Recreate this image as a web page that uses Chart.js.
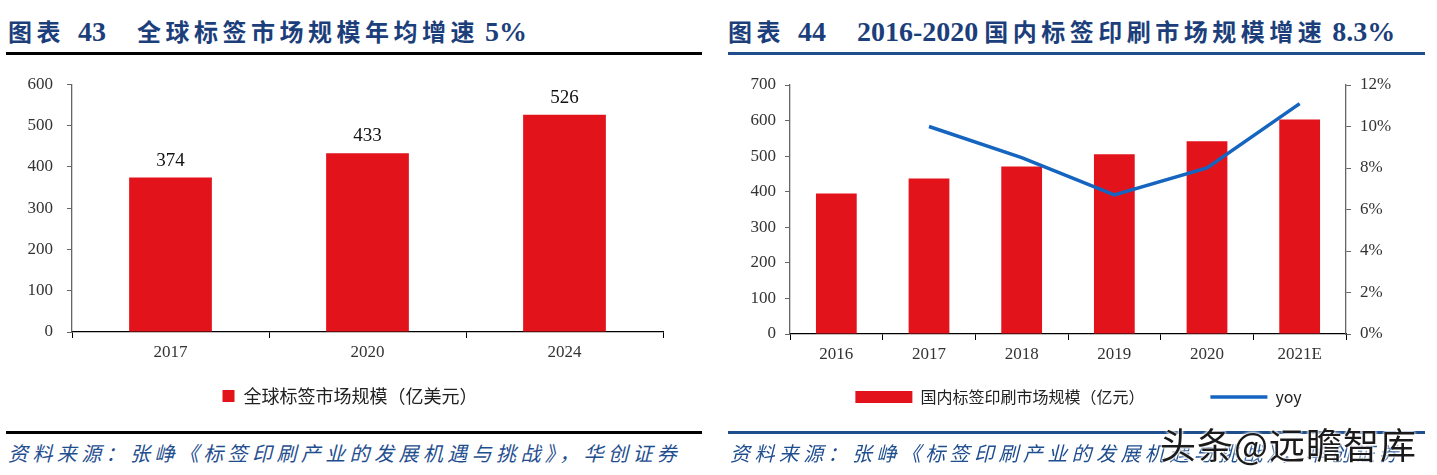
<!DOCTYPE html>
<html>
<head>
<meta charset="utf-8">
<script src="https://cdn.jsdelivr.net/npm/chart.js@4/dist/chart.umd.min.js"></script>
<style>
  body { margin: 0; background: #fff; width: 1437px; height: 475px; overflow: hidden; position: relative; }
  .title { position: absolute; top: 13px; height: 36px; line-height: 36px; font: bold 24px "Liberation Serif", "Noto Sans CJK SC"; color: #1c3f7c; white-space: nowrap; }
  .title span { display: inline-block; }
  .title .cjk { letter-spacing: 4.5px; }
  .title .num { font-size: 28px; }
  .rule { position: absolute; height: 3px; }
  .source { position: absolute; top: 438px; font: italic 20px "Noto Sans CJK SC"; color: #1f4e8f; letter-spacing: 4.4px; white-space: nowrap; }
  .box { position: absolute; top: 60px; height: 360px; }
  .mark { position: absolute; left: 1160px; top: 417px; font: 36px "Noto Sans CJK SC"; color: #1a1a1a; letter-spacing: 1px;
          text-shadow: 0 0 3px #fff, 0 0 3px #fff, 0 0 3px #fff; white-space: nowrap; }
</style>
</head>
<body>
<div class="title" style="left:8px"><span class="cjk" style="width:70px">图表</span><span class="num" style="width:59px">43</span><span class="cjk">全球标签市场规模年均增速</span>&nbsp;<span class="num">5%</span></div>
<div class="rule" style="left:6px; width:696px; top:52px; background:#000"></div>

<div class="title" style="left:728px"><span class="cjk" style="width:70px">图表</span><span class="num" style="width:59px">44</span><span class="num">2016-2020</span>&nbsp;<span class="cjk">国内标签印刷市场规模增速</span>&nbsp;<span class="num">8.3%</span></div>
<div class="rule" style="left:728px; width:697px; top:52px; background:#1f4e8c"></div>

<div class="box" style="left:0; width:700px"><canvas id="globalChart"></canvas></div>
<div class="box" style="left:720px; width:717px"><canvas id="domesticChart"></canvas></div>

<div class="rule" style="left:6px; width:696px; top:431px; background:#000"></div>
<div class="rule" style="left:728px; width:697px; top:431px; background:#1f4e8c"></div>
<div class="source" style="left:8px">资料来源：张峥《标签印刷产业的发展机遇与挑战》，华创证券</div>
<div class="source" style="left:730px">资料来源：张峥《标签印刷产业的发展机遇与挑战》，华创证券</div>
<div class="mark">头条@远瞻智库</div>

<script>
// 图表43
const globalYears = ['2017', '2020', '2024'];
const globalSize = [374, 433, 526];

// 图表44
const domesticYears = ['2016', '2017', '2018', '2019', '2020', '2021E'];
const domesticSize = [395, 437, 471, 505, 542, 603];
const domesticYoy = [null, 10.0, 8.5, 6.7, 8.0, 11.1];

const RED = '#e3131b';
const BLUE = '#1565c0';
const serif = '"Liberation Serif", "Noto Sans CJK SC"';

Chart.defaults.animation = false;
Chart.defaults.responsive = true;
Chart.defaults.maintainAspectRatio = false;
Chart.defaults.plugins.tooltip.enabled = false;

const barLabels = {
    id: 'barLabels',
    afterDatasetsDraw(chart) {
        const ctx = chart.ctx;
        const meta = chart.getDatasetMeta(0);
        ctx.save();
        ctx.font = '19px ' + serif;
        ctx.fillStyle = '#111';
        ctx.textAlign = 'center';
        ctx.textBaseline = 'alphabetic';
        meta.data.forEach((bar, i) => {
            ctx.fillText(globalSize[i], bar.x, bar.y - 12);
        });
        ctx.restore();
    }
};

// legend should be centred on the whole canvas, not only the padded part
const fullLegend = {
    id: 'fullLegend',
    afterLayout(chart) {
        chart.legend.left = 0;
        chart.legend.right = chart.width;
        chart.legend.width = chart.width;
    }
};

function xAxis(height) {
    return {
        grid: { offset: true, drawOnChartArea: false, drawTicks: true, tickLength: 6, color: '#000' },
        border: { color: '#000', width: 1.3 },
        ticks: { color: '#333', font: { family: serif, size: 17 }, padding: 4 },
        afterFit: s => { s.height = height; }
    };
}

function yAxis(opts) {
    return {
        position: opts.position,
        min: 0,
        max: opts.max,
        grid: { drawOnChartArea: false, drawTicks: true, tickLength: 5, color: '#666' },
        border: { color: '#666', width: 1.3 },
        ticks: {
            stepSize: opts.step,
            color: '#333',
            font: { family: serif, size: 17 },
            padding: opts.pad || 9,
            callback: opts.callback
        },
        afterFit: s => { s.width = opts.width; }
    };
}

new Chart(document.getElementById('globalChart'), {
    type: 'bar',
    data: {
        labels: globalYears,
        datasets: [{
            label: '全球标签市场规模（亿美元）',
            data: globalSize,
            backgroundColor: RED,
            categoryPercentage: 1,
            barPercentage: 0.42
        }]
    },
    options: {
        layout: { padding: { left: 0, right: 37, top: 24, bottom: 5 } },
        scales: {
            x: xAxis(45),
            y: yAxis({ position: 'left', max: 600, step: 100, width: 72, pad: 14 })
        },
        plugins: {
            legend: {
                position: 'bottom',
                labels: {
                    boxWidth: 12, boxHeight: 12, padding: 10,
                    color: '#222',
                    font: { family: '"Noto Sans CJK SC"', size: 18 }
                }
            }
        }
    },
    plugins: [barLabels, fullLegend]
});

new Chart(document.getElementById('domesticChart'), {
    type: 'bar',
    data: {
        labels: domesticYears,
        datasets: [{
            label: '国内标签印刷市场规模（亿元）',
            data: domesticSize,
            backgroundColor: RED,
            categoryPercentage: 1,
            barPercentage: 0.44,
            yAxisID: 'y',
            order: 1,
            pointStyle: 'rect'
        }, {
            type: 'line',
            label: 'yoy',
            data: domesticYoy,
            borderColor: BLUE,
            backgroundColor: BLUE,
            borderWidth: 3.5,
            pointRadius: 0,
            tension: 0,
            yAxisID: 'y1',
            order: 0,
            pointStyle: 'line'
        }]
    },
    options: {
        layout: { padding: { left: 0, right: 0, top: 25, bottom: 5 } },
        scales: {
            x: xAxis(45),
            y: yAxis({ position: 'left', max: 700, step: 100, width: 70 }),
            y1: yAxis({ position: 'right', max: 12, step: 2, width: 91, callback: v => v + '%' })
        },
        plugins: {
            legend: {
                position: 'bottom',
                labels: {
                    usePointStyle: true,
                    pointStyleWidth: 57,
                    boxHeight: 12,
                    padding: 10,
                    color: '#222',
                    font: { family: '"Noto Sans CJK SC"', size: 16 },
                    sort: (a, b) => a.datasetIndex - b.datasetIndex,
                    generateLabels(chart) {
                        const items = Chart.defaults.plugins.legend.labels.generateLabels(chart);
                        items.forEach(it => {
                            if (it.datasetIndex === 0) it.text = it.text + '\u3000\u3000\u3000\u3000';
                        });
                        return items;
                    }
                }
            }
        }
    }
});
</script>
</body>
</html>
